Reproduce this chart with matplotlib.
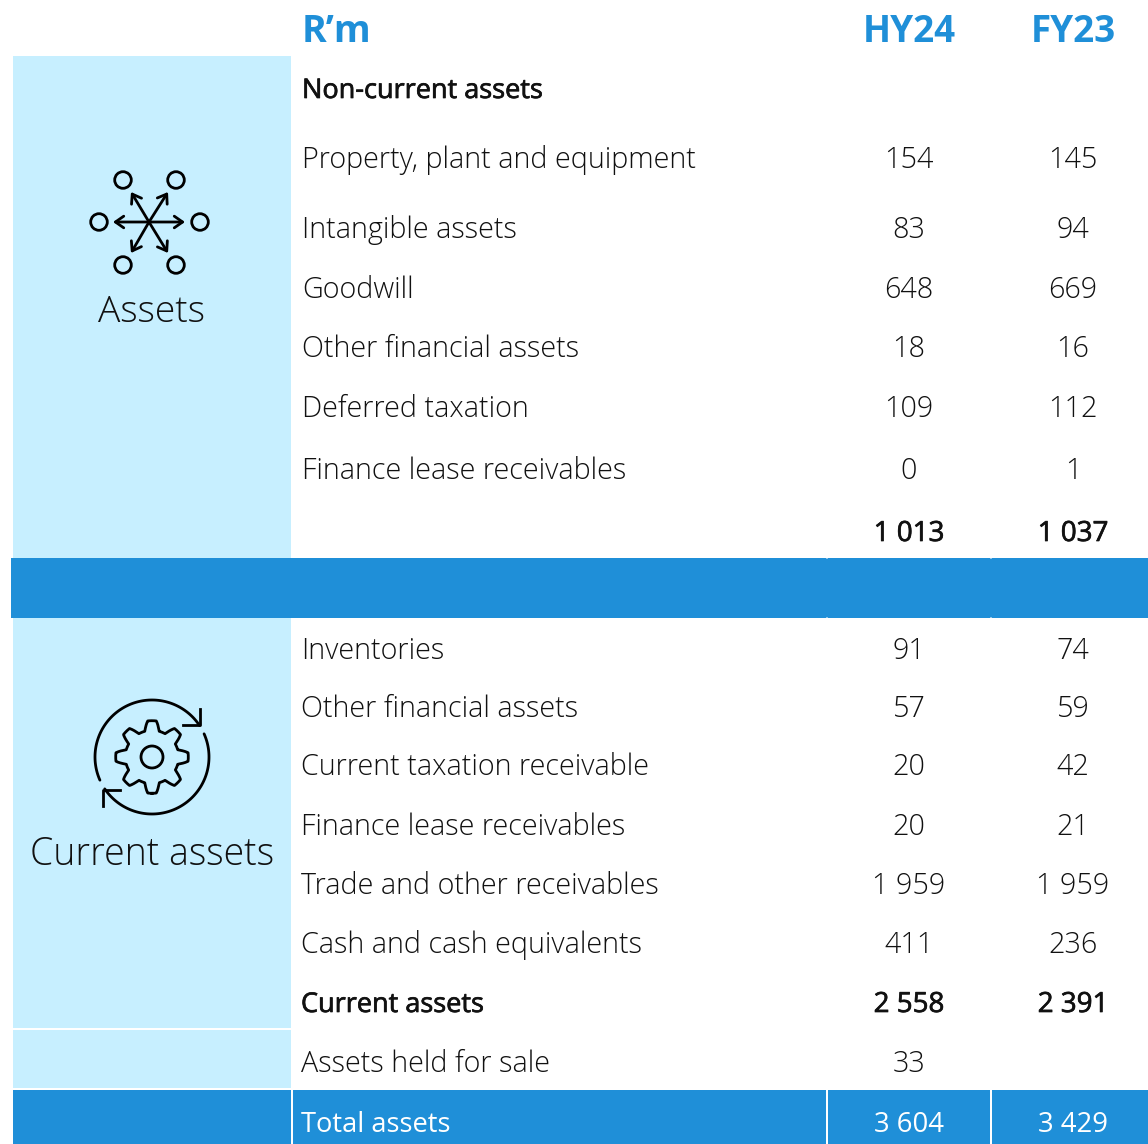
import matplotlib
matplotlib.use('Agg')
import matplotlib.pyplot as plt
import matplotlib.patches as mpatches
import matplotlib.patheffects as pe
import numpy as np

# table content
header = ["R\u2019m", "HY24", "FY23"]
labels = ["Non-current assets", "Property, plant and equipment", "Intangible assets", "Goodwill",
          "Other financial assets", "Deferred taxation", "Finance lease receivables", "",
          "Inventories", "Other financial assets", "Current taxation receivable",
          "Finance lease receivables", "Trade and other receivables", "Cash and cash equivalents",
          "Current assets", "Assets held for sale", "Total assets"]
hy24 = ["", "154", "83", "648", "18", "109", "0", "1 013",
        "91", "57", "20", "20", "1 959", "411", "2 558", "33", "3 604"]
fy23 = ["", "145", "94", "669", "16", "112", "1", "1 037",
        "74", "59", "42", "21", "1 959", "236", "2 391", "", "3 429"]
bold_rows = [0, 7, 14]

# layout, in pixels of the picture
row_y = [91, 160, 230, 290, 349, 409, 471, 534, 651, 709, 767, 827, 886, 945, 1005, 1064, 1125]
col_x = [909, 1073]
light = '#C7EFFF'
dark = '#1F8FD8'
ink = '#111111'
font = 'Open Sans'

fig = plt.figure(figsize=(11.48, 11.44), dpi=100)
ax = fig.add_axes([0, 0, 1, 1])
ax.set_xlim(0, 1148)
ax.set_ylim(1144, 0)
ax.axis('off')


def box(x0, y0, x1, y1, c):
    ax.add_patch(mpatches.Rectangle((x0, y0), x1 - x0, y1 - y0, fc=c, ec='none'))


box(13, 56, 291, 558, light)
box(13, 618, 291, 1028, light)
box(13, 1030, 291, 1088, light)
box(11, 558, 1148, 618, dark)
box(13, 1090, 291, 1144, dark)
box(293, 1090, 826, 1144, dark)
box(828, 1090, 990, 1144, dark)
box(992, 1090, 1148, 1144, dark)
# small notches left by the column borders
for x in [826, 990]:
    box(x, 558, x + 2, 559, '#8CC4EA')
    box(x, 617, x + 2, 618, '#8CC4EA')

# header
ax.text(302, 32, header[0], color=dark, fontsize=27, fontweight='bold', family=font, va='center')
for x, h in zip(col_x, header[1:]):
    ax.text(x, 32, h, color=dark, fontsize=26.5, fontweight='bold', family=font, va='center', ha='center')

# rows
for i, y in enumerate(row_y):
    last = i == len(row_y) - 1
    c = 'white' if last else ink
    if last:
        w, size, label_size = 'normal', 19.8, 19.6
    elif i in bold_rows:
        w, size, label_size = 'normal', 20, 19.5
    else:
        w, size, label_size = 'light', 20.7, 20.7
    lx = 302 if i < 8 else 301
    row_texts = [ax.text(lx, y, labels[i], color=c, fontsize=label_size, fontweight=w, family=font, va='center'),
                 ax.text(col_x[0], y, hy24[i], color=c, fontsize=size, fontweight=w, family=font, va='center', ha='center'),
                 ax.text(col_x[1], y, fy23[i], color=c, fontsize=size, fontweight=w, family=font, va='center', ha='center')]
    if i in bold_rows:
        for tx in row_texts:
            tx.set_path_effects([pe.withStroke(linewidth=0.5, foreground=c)])

ax.text(152, 313, "Assets", color=ink, fontsize=26.8, fontweight='light', family=font, va='center', ha='center')
ax.text(152, 855, "Current assets", color=ink, fontsize=27, fontweight='light', family=font, va='center', ha='center')

# assets icon
cx, cy = 149, 222
lw = 2.0
for px, py in [(123, 180), (176, 180), (99, 222), (200, 222), (123, 265), (176, 265)]:
    ax.add_patch(mpatches.Circle((px, py), 8.3, fc='none', ec='black', lw=lw))
for ex, ey in [(113, 222), (185, 222), (131, 192), (168, 192), (131, 253), (168, 253)]:
    ax.annotate('', xy=(ex, ey), xytext=(cx, cy),
                arrowprops=dict(arrowstyle='->,head_length=0.6,head_width=0.42', color='black', lw=lw,
                                shrinkA=0, shrinkB=0))

# current assets icon
gx, gy = 152, 757
for a0, a1 in [(33.5, 204), (214, 384)]:
    t = np.radians(np.linspace(a0, a1, 120))
    ax.plot(gx + 57 * np.cos(t), gy - 57 * np.sin(t), color='black', lw=lw, solid_capstyle='round')
ax.plot([200, 200, 183], [709, 725, 725], color='black', lw=lw)
ax.plot([103, 103, 120], [806, 790, 790], color='black', lw=lw)
t = np.linspace(0, 2 * np.pi, 720)
r = 31.5 + 4.8 * np.clip(1.7 * np.cos(8 * t), -1, 1)
ax.plot(gx + r * np.sin(t), gy + r * np.cos(t), color='black', lw=lw)
ax.add_patch(mpatches.Circle((gx, gy), 11, fc='none', ec='black', lw=lw))

fig.savefig('out.png', dpi=100)
